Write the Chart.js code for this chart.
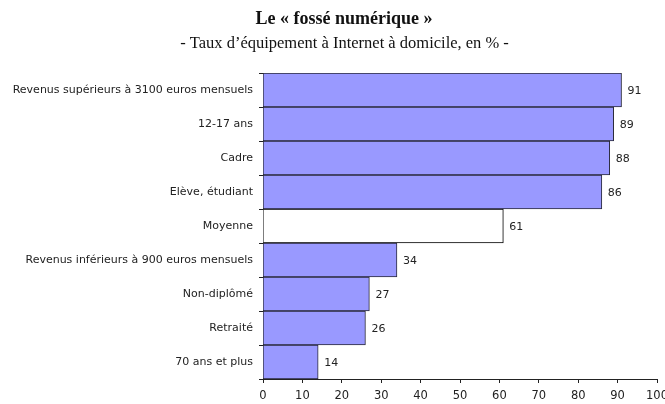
<!DOCTYPE html>
<html>
<head>
<meta charset="utf-8">
<script src="https://cdn.jsdelivr.net/npm/chart.js@4"></script>
<style>
html,body{margin:0;padding:0;background:#fff;}
#wrap{width:665px;height:404px;position:relative;}
</style>
</head>
<body>
<div id="wrap"><canvas id="c" width="665" height="404"></canvas></div>
<script>
const titleText = "Le « fossé numérique »";
const subtitleText = "- Taux d’équipement à Internet à domicile, en % -";
const categories = [
  "Revenus supérieurs à 3100 euros mensuels",
  "12-17 ans",
  "Cadre",
  "Elève, étudiant",
  "Moyenne",
  "Revenus inférieurs à 900 euros mensuels",
  "Non-diplômé",
  "Retraité",
  "70 ans et plus"
];
const values = [91, 89, 88, 86, 61, 34, 27, 26, 14];
const xTicks = [0, 10, 20, 30, 40, 50, 60, 70, 80, 90, 100];
const highlightCategory = "Moyenne";

const fills = categories.map(c => c === highlightCategory ? "#ffffff" : "#9999ff");
const borders = categories.map(c => c === highlightCategory ? "#000000" : "#2a2a3a");

const headings = {
  id: "headings",
  afterDraw(chart) {
    const ctx = chart.ctx;
    ctx.save();
    ctx.fillStyle = "#111";
    ctx.textAlign = "center";
    ctx.textBaseline = "alphabetic";
    ctx.font = "bold 18px 'Liberation Serif'";
    ctx.fillText(titleText, 344, 23.5);
    ctx.font = "16.5px 'Liberation Serif'";
    ctx.fillText(subtitleText, 344.5, 47.5);
    ctx.restore();
  }
};

const valueLabels = {
  id: "valueLabels",
  afterDatasetsDraw(chart) {
    const ctx = chart.ctx;
    const meta = chart.getDatasetMeta(0);
    ctx.save();
    ctx.font = "11px 'DejaVu Sans'";
    ctx.fillStyle = "#222";
    ctx.textBaseline = "middle";
    ctx.textAlign = "left";
    meta.data.forEach((bar, i) => {
      ctx.fillText(String(values[i]), bar.x + 6, bar.y + 1);
    });
    ctx.restore();
  }
};

new Chart(document.getElementById("c"), {
  type: "bar",
  data: {
    labels: categories,
    datasets: [{
      data: values,
      backgroundColor: fills,
      borderColor: borders,
      borderWidth: 1,
      barPercentage: 1,
      categoryPercentage: 1,
      borderSkipped: "left"
    }]
  },
  options: {
    indexAxis: "y",
    responsive: false,
    animation: false,
    devicePixelRatio: 1,
    layout: { padding: { left: 0, right: 8, top: 73, bottom: 0 } },
    plugins: {
      legend: { display: false },
      tooltip: { enabled: false }
    },
    scales: {
      x: {
        min: 0,
        max: 100,
        afterBuildTicks(scale) { scale.ticks = xTicks.map(v => ({ value: v })); },
        afterFit(scale) { scale.height = 25; scale.paddingRight = 0; },
        border: { display: true, color: "#222", width: 1 },
        grid: { drawOnChartArea: false, drawTicks: true, tickLength: 4, color: "#222" },
        ticks: { color: "#222", font: { family: "'DejaVu Sans'", size: 11.5 }, padding: 6, maxRotation: 0, autoSkip: false }
      },
      y: {
        afterFit(scale) { scale.width = 263; },
        border: { display: true, color: "#222", width: 1 },
        grid: { drawOnChartArea: false, drawTicks: true, tickLength: 4, color: "#222", offset: true },
        ticks: { color: "#222", font: { family: "'DejaVu Sans'", size: 11 }, padding: 6, autoSkip: false }
      }
    }
  },
  plugins: [valueLabels, headings]
});
</script>
</body>
</html>
